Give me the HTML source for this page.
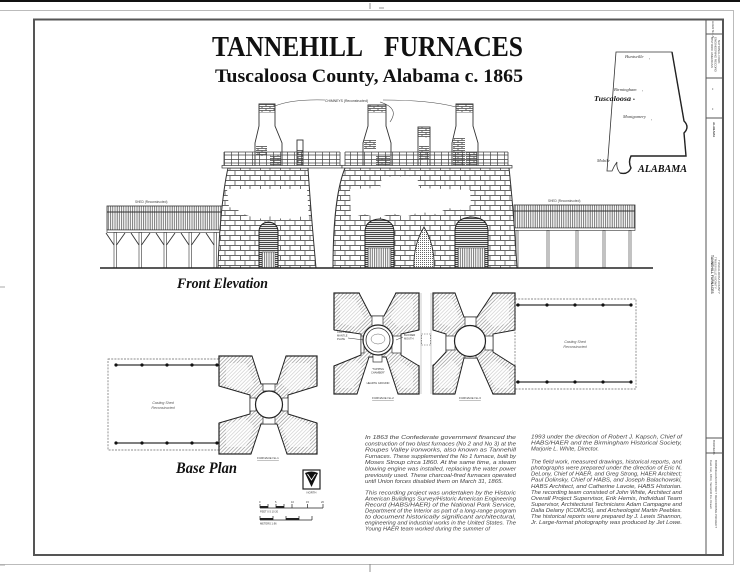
<!DOCTYPE html>
<html><head><meta charset="utf-8"><style>
html,body{margin:0;padding:0;background:#fff;}
svg{display:block;}
</style></head><body>
<svg width="740" height="572" viewBox="0 0 740 572" xmlns="http://www.w3.org/2000/svg">
<defs>
 <pattern id="stone" width="20" height="10" patternUnits="userSpaceOnUse">
  <rect width="20" height="10" fill="#fff"/>
  <path d="M0 0.5H20 M0 5.5H20 M5 0.5V5.5 M15 0.5V5.5 M0.5 5.5V10 M10 5.5V10" stroke="#666" stroke-width="0.9" fill="none"/>
 </pattern>
 <pattern id="stoneS" width="8" height="4" patternUnits="userSpaceOnUse">
  <rect width="8" height="4" fill="#fff"/>
  <path d="M0 0.5H8 M0 2.5H8 M2 0.5V2.5 M6 2.5V4" stroke="#444" stroke-width="0.8" fill="none"/>
 </pattern>
 <pattern id="hatch" width="2.6" height="2.6" patternUnits="userSpaceOnUse" patternTransform="rotate(45)">
  <rect width="2.6" height="2.6" fill="#fff"/>
  <line x1="0.5" y1="0" x2="0.5" y2="2.6" stroke="#999" stroke-width="0.7"/>
 </pattern>
 <pattern id="vl" width="2.2" height="10" patternUnits="userSpaceOnUse">
  <rect width="2.2" height="10" fill="#fff"/>
  <line x1="0.6" y1="0" x2="0.6" y2="10" stroke="#555" stroke-width="0.8"/>
 </pattern>
 <pattern id="hl" width="10" height="2" patternUnits="userSpaceOnUse">
  <rect width="10" height="2" fill="#fff"/>
  <line x1="0" y1="0.6" x2="10" y2="0.6" stroke="#333" stroke-width="1"/>
 </pattern>
 <pattern id="rail" width="7" height="20" patternUnits="userSpaceOnUse">
  <line x1="0.5" y1="0" x2="0.5" y2="20" stroke="#444" stroke-width="0.7"/>
 </pattern>
 <pattern id="dots" width="2" height="2" patternUnits="userSpaceOnUse">
  <rect width="2" height="2" fill="#fff"/>
  <rect x="0" y="0" width="1" height="1" fill="#666"/>
 </pattern>
</defs>
<rect width="740" height="572" fill="#fff"/>

<!-- sheet marks -->
<rect x="0" y="0" width="740" height="2" fill="#111"/>
<path d="M0 10.5H733.5V564.5H0" stroke="#bbb" fill="none" stroke-width="1"/>
<path d="M370 3V9 M370 564V572 M379 8H384" stroke="#777" stroke-width="0.8"/>
<path d="M0 287H5 M0 565H5" stroke="#aaa" stroke-width="1"/>

<!-- frame -->
<rect x="34" y="19.5" width="689" height="535.5" fill="none" stroke="#555" stroke-width="2"/>
<path d="M706 19.5V555 M706 34H723 M706 78H723 M706 118H723 M706 438H723 M706 453H723" stroke="#555" stroke-width="1" fill="none"/>
<g font-family="'Liberation Sans', sans-serif" font-size="3" fill="#444">
 <text transform="translate(712,21) rotate(90)">HAER No. AL-</text>
 <text transform="translate(711,37) rotate(90)">HISTORIC AMERICAN</text>
 <text transform="translate(714.5,37) rotate(90)">ENGINEERING RECORD</text>
 <text transform="translate(718,40) rotate(90)">NATIONAL PARK</text>
 <text x="712" y="90" font-size="4">•</text>
 <text x="712" y="110" font-size="4">•</text>
 <text transform="translate(713,122) rotate(90)" font-weight="bold">ALABAMA</text>
 <text transform="translate(711,255) rotate(90)" font-size="3.4" font-weight="bold">TANNEHILL FURNACES</text>
 <text transform="translate(714.5,257) rotate(90)">TRUSSVILLE VICINITY</text>
 <text transform="translate(718,260) rotate(90)">TUSCALOOSA COUNTY</text>
 <text transform="translate(713,440) rotate(90)">BURNERS</text>
 <text transform="translate(710,460) rotate(90)">Cast Iron, 1863, Tannehill Co. Drawn</text>
 <text transform="translate(715,460) rotate(90)">BIRMINGHAM DISTRICT RECORDING PROJECT</text>
</g>

<!-- titles -->
<g font-family="'Liberation Serif', serif" font-weight="bold" fill="#111">
 <text x="212" y="56" font-size="28" textLength="151" lengthAdjust="spacingAndGlyphs">TANNEHILL</text>
 <text x="384" y="56" font-size="28" textLength="139" lengthAdjust="spacingAndGlyphs">FURNACES</text>
 <text x="215" y="82" font-size="19" textLength="308" lengthAdjust="spacingAndGlyphs">Tuscaloosa County, Alabama  c. 1865</text>
</g>

<!-- Alabama map -->
<path d="M616 52 L672 52 L684 121 Q690 127 684 133 L686 156 L631 156 Q628 162 631 168 Q628 175 620 173 Q616 168 617 162 Q614 166 612 171 L607 171 Z" fill="none" stroke="#333" stroke-width="0.8"/>
<path d="M672 52 L684 121 Q690 127 684 133 L686 156 L631 156 Q628 162 631 168 Q628 175 620 173" fill="none" stroke="#222" stroke-width="1.4"/>
<g font-family="'Liberation Serif', serif" font-style="italic" fill="#333" font-size="4.5">
 <text x="625" y="58">Huntsville</text><text x="649" y="60" font-size="3">•</text>
 <text x="614" y="91">Birmingham</text><text x="642" y="92" font-size="3">•</text>
 <text x="623" y="118">Montgomery</text><text x="651" y="121" font-size="3">•</text>
 <text x="597" y="162">Mobile</text>
</g>
<g font-family="'Liberation Serif', serif" font-style="italic" font-weight="bold" fill="#111">
 <text x="594" y="101" font-size="7" textLength="37" lengthAdjust="spacingAndGlyphs">Tuscaloosa</text>
 <text x="633" y="101" font-size="5">•</text>
 <text x="638" y="172" font-size="10" textLength="49" lengthAdjust="spacingAndGlyphs">ALABAMA</text>
</g>

<!-- ===== FRONT ELEVATION ===== -->
<!-- left shed -->
<rect x="107" y="206" width="115" height="24" fill="url(#vl)" stroke="#333" stroke-width="0.8"/>
<line x1="107" y1="212" x2="222" y2="212" stroke="#333" stroke-width="0.9"/>
<rect x="107" y="230" width="115" height="2.5" fill="#fff" stroke="#333" stroke-width="0.6"/>
<g fill="#fff" stroke="#333" stroke-width="0.6">
 <rect x="114" y="232.5" width="2.5" height="35.5"/>
 <rect x="139" y="232.5" width="2.5" height="35.5"/>
 <rect x="164" y="232.5" width="2.5" height="35.5"/>
 <rect x="189" y="232.5" width="2.5" height="35.5"/>
 <rect x="214" y="232.5" width="2.5" height="35.5"/>
</g>
<path d="M114 245 L106 233 M116.5 245 L125 233 M139 245 L131 233 M141.5 245 L150 233 M164 245 L156 233 M166.5 245 L175 233 M189 245 L181 233 M191.5 245 L200 233 M214 245 L206 233" stroke="#333" stroke-width="0.9" fill="none"/>
<text x="135" y="203" font-family="'Liberation Sans', sans-serif" font-size="3.2" fill="#444">SHED   (Reconstructed)</text>

<!-- right shed -->
<rect x="514" y="205" width="121" height="23" fill="url(#vl)" stroke="#333" stroke-width="0.8"/>
<line x1="514" y1="211" x2="635" y2="211" stroke="#333" stroke-width="0.9"/>
<rect x="514" y="228" width="121" height="2.5" fill="#fff" stroke="#333" stroke-width="0.6"/>
<g fill="#fff" stroke="#333" stroke-width="0.6">
 <rect x="516" y="230.5" width="2" height="37.5"/>
 <rect x="547" y="230.5" width="2" height="37.5"/>
 <rect x="576" y="230.5" width="2" height="37.5"/>
 <rect x="603" y="230.5" width="2" height="37.5"/>
 <rect x="629" y="230.5" width="2" height="37.5"/>
</g>
<text x="548" y="202" font-family="'Liberation Sans', sans-serif" font-size="3.2" fill="#444">SHED   (Reconstructed)</text>

<!-- furnace masses -->
<path d="M218 268 C219 230 223 190 228 168 L308 168 C310 200 313 235 316 268 Z" fill="url(#stone)" stroke="#333" stroke-width="1"/>
<path d="M333 268 C333 230 336 190 345 168 L509 168 C512 195 515 235 517 268 Z" fill="url(#stone)" stroke="#333" stroke-width="1"/>
<!-- bare stucco areas -->
<path d="M227 189 L307 189 L309 219 L298 216 L286 220 L272 216 L258 219 L246 215 L236 209 L229 207 Z" fill="#fff"/>
<path d="M350 189 L380 188 L382 177 L417 176 L419 188 L470 190 L471 205 L462 210 L448 208 L436 214 L420 212 L405 217 L392 213 L378 218 L364 214 L351 218 Z" fill="#fff"/>
<!-- arches -->
<path d="M259 268 L259 232 Q259 223 268.5 222 Q278 223 278 232 L278 268 Z" fill="url(#hl)" stroke="#222" stroke-width="1"/>
<rect x="262" y="252" width="13" height="16" fill="url(#vl)" stroke="#333" stroke-width="0.5"/>
<path d="M365 268 L365 232 Q365 220 379.5 219 Q394 220 394 232 L394 268 Z" fill="url(#hl)" stroke="#222" stroke-width="1"/>
<rect x="368" y="248" width="23" height="20" fill="url(#vl)" stroke="#333" stroke-width="0.5"/>
<path d="M455 268 L455 231 Q455 218 471.5 217 Q488 218 488 231 L488 268 Z" fill="url(#hl)" stroke="#222" stroke-width="1"/>
<rect x="458" y="248" width="27" height="20" fill="url(#vl)" stroke="#333" stroke-width="0.5"/>
<path d="M414 268 Q413 245 424 227 Q435 245 434 268 Z" fill="url(#dots)" stroke="#333" stroke-width="0.9"/>

<!-- chimneys -->
<g stroke="#333" stroke-width="0.9" fill="#fff">
 <path d="M259 104 L275 104 L275 126 L282 143 L282 166 L255 166 L255 143 L259 126 Z"/>
 <path d="M368 105 L386 105 L386 126 L391 143 L391 166 L363 166 L363 143 L368 126 Z"/>
 <path d="M456 104 L473 104 L473 126 L478 143 L478 166 L452 166 L452 143 L456 126 Z"/>
 <rect x="418" y="127" width="12" height="39"/>
 <rect x="297" y="140" width="6" height="26"/>
</g>
<g fill="url(#stoneS)" stroke="none">
 <rect x="259.5" y="104.5" width="15" height="8"/>
 <rect x="368.5" y="105.5" width="17" height="7"/>
 <rect x="456.5" y="104.5" width="16" height="8"/>
 <rect x="418.5" y="127.5" width="11" height="10"/>
 <rect x="256" y="146" width="11" height="10"/>
 <rect x="270" y="155" width="11" height="10"/>
 <rect x="364" y="140" width="12" height="9"/>
 <rect x="376" y="156" width="14" height="9"/>
 <rect x="453" y="138" width="12" height="27"/>
 <rect x="466" y="152" width="11" height="13"/>
 <rect x="419" y="146" width="10" height="14"/>
 <rect x="297.5" y="150" width="5" height="15"/>
</g>
<!-- chimney label -->
<text x="325" y="102" font-family="'Liberation Sans', sans-serif" font-size="3.4" fill="#333">CHIMNEYS   (Reconstructed)</text>
<path d="M325 100 Q292 99 275 106 M383 100 Q430 100 456 107 M380 102 Q400 108 390 122" fill="none" stroke="#444" stroke-width="0.6"/>

<!-- railings -->
<rect x="224" y="152" width="116" height="14" fill="url(#rail)"/>
<rect x="345" y="152" width="163" height="14" fill="url(#rail)"/>
<path d="M224 152H340 M224 155H340 M224 159.5H340 M224 163H340 M345 152H508 M345 155H508 M345 159.5H508 M345 163H508 M224 152V166 M340 152V166 M345 152V166 M508 152V166" stroke="#444" stroke-width="0.8" fill="none"/>
<rect x="222" y="165.5" width="120" height="2.5" fill="#fff" stroke="#333" stroke-width="0.7"/>
<rect x="342" y="165.5" width="170" height="2.5" fill="#fff" stroke="#333" stroke-width="0.7"/>

<!-- ground -->
<line x1="100" y1="268" x2="653" y2="268" stroke="#222" stroke-width="1.6"/>

<text x="177" y="288" font-family="'Liberation Serif', serif" font-style="italic" font-weight="bold" font-size="15" fill="#111" textLength="91" lengthAdjust="spacingAndGlyphs">Front Elevation</text>

<!-- ===== BASE PLAN ===== -->
<!-- left casting shed -->
<rect x="108" y="359" width="111" height="91" fill="none" stroke="#666" stroke-width="0.7" stroke-dasharray="2,1.2"/>
<path d="M116 365H219 M116 443H219" stroke="#333" stroke-width="1.2"/>
<g fill="#111">
 <circle cx="116" cy="365" r="1.6"/><circle cx="142" cy="365" r="1.6"/><circle cx="167" cy="365" r="1.6"/><circle cx="192" cy="365" r="1.6"/><circle cx="217" cy="365" r="1.6"/>
 <circle cx="116" cy="443" r="1.6"/><circle cx="142" cy="443" r="1.6"/><circle cx="167" cy="443" r="1.6"/><circle cx="192" cy="443" r="1.6"/><circle cx="217" cy="443" r="1.6"/>
</g>
<g font-family="'Liberation Sans', sans-serif" font-style="italic" font-size="3.6" fill="#555" text-anchor="middle">
 <text x="163" y="404">Casting Shed</text><text x="163" y="409">Reconstructed</text>
 <text x="575" y="343">Casting Shed</text><text x="575" y="348">Reconstructed</text>
</g>

<!-- furnace 1 plan -->
<rect x="219" y="356" width="98" height="98" fill="url(#hatch)" stroke="#222" stroke-width="1.2"/>
<g fill="#fff" opacity="0.55">
 <path d="M226 363 L246 363 L254 384 L244 392 L226 385 Z"/>
 <path d="M310 363 L290 363 L282 384 L292 392 L310 385 Z"/>
 <path d="M226 447 L246 447 L254 426 L244 418 L226 425 Z"/>
 <path d="M310 447 L290 447 L282 426 L292 418 L310 425 Z"/>
</g>
<g fill="#fff">
 <path d="M252 354.5 L261 384 L277 384 L286 354.5 Z"/>
 <path d="M251 455.5 L261 424 L277 424 L287 455.5 Z"/>
 <path d="M217.5 386 L250 395 L250 414 L217.5 423 Z"/>
 <path d="M318.5 386 L288 395 L288 414 L318.5 423 Z"/>
</g>
<path d="M252 356 L261 384 L277 384 L286 356 M251 454 L261 424 L277 424 L287 454 M219 386 L250 395 L250 414 L219 423 M317 386 L288 395 L288 414 L317 423" fill="none" stroke="#222" stroke-width="1"/>
<g fill="#fff" stroke="#333" stroke-width="0.7">
 <rect x="263" y="384" width="12" height="7"/><rect x="263" y="417" width="12" height="7"/>
 <rect x="250" y="398" width="6" height="13"/><rect x="282" y="398" width="6" height="13"/>
</g>
<circle cx="269" cy="404.5" r="13.5" fill="#fff" stroke="#222" stroke-width="1.2"/>
<text x="268" y="459" font-family="'Liberation Sans', sans-serif" font-size="3" fill="#333" text-anchor="middle" text-decoration="underline">FURNACE  No.1</text>

<!-- furnace 2 plan -->
<rect x="334" y="293" width="85" height="101" fill="url(#hatch)" stroke="#222" stroke-width="1.2"/>
<g fill="#fff" opacity="0.55">
 <path d="M340 299 L355 299 L364 318 L356 327 L340 323 Z"/>
 <path d="M413 299 L399 299 L390 318 L398 327 L413 323 Z"/>
 <path d="M340 388 L353 388 L362 366 L355 360 L340 370 Z"/>
 <path d="M413 388 L401 388 L392 366 L399 360 L413 370 Z"/>
</g>
<g fill="#fff">
 <path d="M359 291.5 L371 316 L384 316 L396 291.5 Z"/>
 <path d="M357 395.5 L369 357 L386 357 L398 395.5 Z"/>
 <path d="M332.5 330 L361 334 L361 355 L332.5 366 Z"/>
 <path d="M420.5 330 L401 334 L401 355 L420.5 366 Z"/>
</g>
<path d="M359 293 L371 316 L384 316 L396 293 M357 394 L369 357 L386 357 L398 394 M334 330 L361 334 L361 355 L334 366 M419 330 L401 334 L401 355 L419 366" fill="none" stroke="#222" stroke-width="1"/>
<g fill="#fff" stroke="#333" stroke-width="0.7">
 <rect x="372" y="316" width="11" height="10"/>
 <rect x="361" y="336" width="3" height="17"/>
 <rect x="392" y="336" width="9" height="17"/>
 <rect x="373" y="354" width="9" height="8"/>
</g>
<circle cx="378" cy="340" r="15" fill="#fff" stroke="#222" stroke-width="1.2"/>
<circle cx="378" cy="340" r="12" fill="none" stroke="#333" stroke-width="0.8"/>
<ellipse cx="378" cy="339" rx="7" ry="5" fill="none" stroke="#666" stroke-width="0.5"/>
<g font-family="'Liberation Sans', sans-serif" font-size="2.6" fill="#333">
 <text x="337" y="333">CAST IRON</text><text x="337" y="336.5">MANTLE</text><text x="337" y="340">PLATE</text>
 <text x="404" y="336">BLOWER</text><text x="404" y="339.5">MOUTH</text>
 <text x="378" y="370" text-anchor="middle">"TAPPING</text><text x="378" y="373.5" text-anchor="middle">CHAMBER"</text>
 <text x="378" y="384" text-anchor="middle">HEARTH GROUND</text>
</g>
<path d="M348 338 L364 340 M403 337 L396 340" stroke="#333" stroke-width="0.5"/>
<text x="383" y="399" font-family="'Liberation Sans', sans-serif" font-size="3" fill="#333" text-anchor="middle" text-decoration="underline">FURNACE  No.2</text>

<!-- between -->
<path d="M421 293V394 M431 293V394" stroke="#999" stroke-width="0.5"/>
<rect x="421.5" y="334" width="9" height="11" fill="none" stroke="#555" stroke-width="0.6" stroke-dasharray="1.5,1"/>

<!-- furnace 3 plan -->
<rect x="433" y="293" width="82" height="101" fill="url(#hatch)" stroke="#222" stroke-width="1.2"/>
<g fill="#fff" opacity="0.55">
 <path d="M439 299 L452 299 L459 318 L452 327 L439 323 Z"/>
 <path d="M509 299 L496 299 L485 318 L494 327 L509 323 Z"/>
 <path d="M439 388 L452 388 L459 368 L452 360 L439 370 Z"/>
 <path d="M509 388 L496 388 L485 368 L494 360 L509 370 Z"/>
</g>
<g fill="#fff">
 <path d="M455 291.5 L464 317 L477 317 L493 291.5 Z"/>
 <path d="M455 395.5 L464 358 L477 358 L493 395.5 Z"/>
 <path d="M431.5 330 L446 334 L446 352 L431.5 366 Z"/>
 <path d="M516.5 330 L493 334 L493 352 L516.5 366 Z"/>
</g>
<path d="M455 293 L464 317 L477 317 L493 293 M455 394 L464 358 L477 358 L493 394 M433 330 L446 334 L446 352 L433 366 M515 330 L493 334 L493 352 L515 366" fill="none" stroke="#222" stroke-width="1"/>
<g fill="#fff" stroke="#333" stroke-width="0.7">
 <rect x="465" y="317" width="11" height="9"/>
 <rect x="465" y="355" width="11" height="3"/>
 <rect x="446" y="336" width="9" height="14"/>
 <rect x="485" y="336" width="8" height="14"/>
</g>
<circle cx="470" cy="341" r="15.5" fill="#fff" stroke="#222" stroke-width="1.2"/>
<text x="470" y="399" font-family="'Liberation Sans', sans-serif" font-size="3" fill="#333" text-anchor="middle" text-decoration="underline">FURNACE  No.3</text>

<!-- right casting shed -->
<rect x="515" y="299" width="121" height="90" fill="none" stroke="#666" stroke-width="0.7" stroke-dasharray="2,1.2"/>
<path d="M516 305H632 M516 382H632" stroke="#333" stroke-width="1.2"/>
<g fill="#111">
 <circle cx="518" cy="305" r="1.6"/><circle cx="547" cy="305" r="1.6"/><circle cx="575" cy="305" r="1.6"/><circle cx="603" cy="305" r="1.6"/><circle cx="631" cy="305" r="1.6"/>
 <circle cx="518" cy="382" r="1.6"/><circle cx="547" cy="382" r="1.6"/><circle cx="575" cy="382" r="1.6"/><circle cx="603" cy="382" r="1.6"/><circle cx="631" cy="382" r="1.6"/>
</g>

<text x="176" y="473" font-family="'Liberation Serif', serif" font-style="italic" font-weight="bold" font-size="16" fill="#111" textLength="61" lengthAdjust="spacingAndGlyphs">Base  Plan</text>

<!-- north arrow -->
<rect x="303" y="470" width="17" height="19" fill="#fff" stroke="#222" stroke-width="1.2"/>
<path d="M305 473 Q311.5 470 318 473 L311.5 487 Z" fill="#111"/>
<path d="M307.5 474 L311.5 480 L315.5 474" stroke="#fff" stroke-width="0.8" fill="none"/>
<text x="311.5" y="493.5" font-family="'Liberation Sans', sans-serif" font-size="2.8" fill="#333" text-anchor="middle">NORTH</text>

<!-- scale bars -->
<g stroke="#222" stroke-width="0.7" fill="none">
 <path d="M260 508H323 M260 504V508 M268 504V508 M276 504V508 M284 504V508 M292 504V508 M307.5 504V508 M323 504V508"/>
 <path d="M260 520H312 M260 516V520 M273 516V520 M286 516V520 M299 516V520 M312 516V520"/>
</g>
<g fill="#222">
 <rect x="260" y="506" width="8" height="2"/><rect x="276" y="506" width="8" height="2"/>
 <rect x="260" y="518" width="13" height="2"/><rect x="286" y="518" width="13" height="2"/>
</g>
<g font-family="'Liberation Sans', sans-serif" font-size="2.6" fill="#333">
 <text x="259" y="503">0</text><text x="275" y="503">5</text><text x="291" y="503">10</text><text x="306" y="503">15</text><text x="321" y="503">20</text>
 <text x="260" y="512.5">FEET  0  5  10  20</text>
 <text x="260" y="524.5">METERS  1:96</text>
</g>

<!-- text columns -->
<g font-family="'Liberation Sans', sans-serif" font-style="italic" font-size="5.3" fill="#444">
 <text x="365" y="439" textLength="151" lengthAdjust="spacingAndGlyphs">In 1863 the Confederate government financed the</text>
 <text x="365" y="445.3" textLength="151" lengthAdjust="spacingAndGlyphs">construction of two blast furnaces (No 2 and No 3) at the</text>
 <text x="365" y="451.6" textLength="151" lengthAdjust="spacingAndGlyphs">Roupes Valley ironworks, also known as Tannehill</text>
 <text x="365" y="457.9" textLength="151" lengthAdjust="spacingAndGlyphs">Furnaces. These supplemented the No 1 furnace, built by</text>
 <text x="365" y="464.2" textLength="151" lengthAdjust="spacingAndGlyphs">Moses Stroup circa 1860. At the same time, a steam</text>
 <text x="365" y="470.5" textLength="151" lengthAdjust="spacingAndGlyphs">blowing engine was installed, replacing the water power</text>
 <text x="365" y="476.8" textLength="151" lengthAdjust="spacingAndGlyphs">previously used. These charcoal-fired furnaces operated</text>
 <text x="365" y="483.1" textLength="138" lengthAdjust="spacingAndGlyphs">until Union forces disabled them on March 31, 1865.</text>

 <text x="365" y="494.5" textLength="151" lengthAdjust="spacingAndGlyphs">This recording project was undertaken by the Historic</text>
 <text x="365" y="500.5" textLength="151" lengthAdjust="spacingAndGlyphs">American Buildings Survey/Historic American Engineering</text>
 <text x="365" y="506.5" textLength="151" lengthAdjust="spacingAndGlyphs">Record (HABS/HAER) of the National Park Service,</text>
 <text x="365" y="512.5" textLength="151" lengthAdjust="spacingAndGlyphs">Department of the Interior as part of a long-range program</text>
 <text x="365" y="518.5" textLength="151" lengthAdjust="spacingAndGlyphs">to document historically significant architectural,</text>
 <text x="365" y="524.5" textLength="151" lengthAdjust="spacingAndGlyphs">engineering and industrial works in the United States. The</text>
 <text x="365" y="530.5" textLength="125" lengthAdjust="spacingAndGlyphs">Young HAER team worked during the summer of</text>

 <text x="531" y="438.5" textLength="151" lengthAdjust="spacingAndGlyphs">1993 under the direction of Robert J. Kapsch, Chief of</text>
 <text x="531" y="444.6" textLength="151" lengthAdjust="spacingAndGlyphs">HABS/HAER and the Birmingham Historical Society,</text>
 <text x="531" y="450.7" textLength="68" lengthAdjust="spacingAndGlyphs">Marjorie L. White, Director.</text>

 <text x="531" y="463.5" textLength="151" lengthAdjust="spacingAndGlyphs">The field work, measured drawings, historical reports, and</text>
 <text x="531" y="469.6" textLength="151" lengthAdjust="spacingAndGlyphs">photographs were prepared under the direction of Eric N.</text>
 <text x="531" y="475.6" textLength="151" lengthAdjust="spacingAndGlyphs">DeLony, Chief of HAER, and Greg Strong, HAER Architect;</text>
 <text x="531" y="481.7" textLength="151" lengthAdjust="spacingAndGlyphs">Paul Dolinsky, Chief of HABS, and Joseph Balachowski,</text>
 <text x="531" y="487.8" textLength="151" lengthAdjust="spacingAndGlyphs">HABS Architect, and Catherine Lavoie, HABS Historian.</text>
 <text x="531" y="493.9" textLength="151" lengthAdjust="spacingAndGlyphs">The recording team consisted of John White, Architect and</text>
 <text x="531" y="499.9" textLength="151" lengthAdjust="spacingAndGlyphs">Overall Project Supervisor, Erik Hemis, Individual Team</text>
 <text x="531" y="506.0" textLength="151" lengthAdjust="spacingAndGlyphs">Supervisor, Architectural Technicians Adam Campagne and</text>
 <text x="531" y="512.1" textLength="151" lengthAdjust="spacingAndGlyphs">Dalia Delany (ICOMOS), and Archeologist Martin Peebles.</text>
 <text x="531" y="518.1" textLength="151" lengthAdjust="spacingAndGlyphs">The historical reports were prepared by J. Lewis Shannon,</text>
 <text x="531" y="524.2" textLength="151" lengthAdjust="spacingAndGlyphs">Jr. Large-format photography was produced by Jet Lowe.</text>
</g>
</svg>
</body></html>
